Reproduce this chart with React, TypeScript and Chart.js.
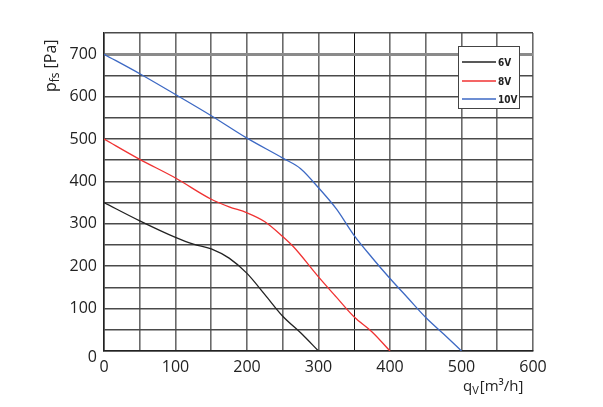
import React, { useEffect, useRef } from "react";
import { Chart, registerables } from "chart.js";

Chart.register(...registerables);

const xs6 = [0, 50, 100, 125, 150, 175, 200, 225, 250, 275, 300];
const ys6 = [350, 307, 268, 252, 241, 219, 183, 133, 82, 43, 0];
const xs8 = [0, 50, 100, 150, 175, 200, 225, 250, 265, 300, 325, 350, 375, 400];
const ys8 = [500, 452, 408, 358, 340, 326, 305, 270, 246, 175, 127, 80, 45, 0];
const xs10 = [0, 50, 100, 150, 200, 250, 275, 300, 325, 350, 375, 400, 425, 450, 475, 500];
const ys10 = [700, 654, 605, 555, 502, 455, 430, 385, 335, 272, 220, 171, 125, 79, 40, 0];
const seriesNames = ["6V", "8V", "10V"];
const seriesColors = ["#222222", "#f03232", "#3d69c4"];
const xTickLabels = [0, 100, 200, 300, 400, 500, 600];
const yTickLabels = [100, 200, 300, 400, 500, 600, 700];
const yZeroLabel = "0";

const FONT = "'Open Sans', sans-serif";

const toPts = (xs: number[], ys: number[]) => xs.map((x, i) => ({ x, y: ys[i] }));

const decor = {
  id: "decor",
  afterDraw(chart: any) {
    const ctx = chart.ctx;
    ctx.save();
    // y zero label (offset low as in original)
    ctx.fillStyle = "#222";
    ctx.font = `16px ${FONT}`;
    ctx.textAlign = "right";
    ctx.textBaseline = "middle";
    ctx.fillText(yZeroLabel, 97, chart.scales.y.getPixelForValue(0) + 6);
    // legend box
    const bx = 458, by = 46, bw = 61, bh = 62;
    ctx.fillStyle = "#fff";
    ctx.fillRect(bx, by, bw, bh);
    ctx.strokeStyle = "#444";
    ctx.lineWidth = 1;
    ctx.strokeRect(bx + 0.5, by + 0.5, bw, bh);
    const rows = [62, 81, 99];
    seriesNames.forEach((n, i) => {
      ctx.strokeStyle = seriesColors[i];
      ctx.lineWidth = 1.3;
      ctx.beginPath();
      ctx.moveTo(462, rows[i]);
      ctx.lineTo(496, rows[i]);
      ctx.stroke();
      ctx.fillStyle = "#222";
      ctx.font = "bold 10px 'DejaVu Sans Condensed', sans-serif";
      ctx.textBaseline = "middle";
      ctx.textAlign = "left";
      ctx.fillText(n, 498, rows[i] + 1);
    });
    // y title
    ctx.fillStyle = "#222";
    ctx.textBaseline = "alphabetic";
    ctx.textAlign = "left";
    ctx.translate(56, 92);
    ctx.rotate(-Math.PI / 2);
    ctx.font = `16px ${FONT}`;
    ctx.fillText("p", 0, 0);
    let w = ctx.measureText("p").width;
    ctx.font = `12px ${FONT}`;
    ctx.fillText("fs", w, 3);
    w += ctx.measureText("fs").width + 4;
    ctx.font = `16px ${FONT}`;
    ctx.fillText("[Pa]", w, 0);
    ctx.setTransform(1, 0, 0, 1, 0, 0);
    // x title
    ctx.font = `15px ${FONT}`;
    ctx.fillText("q", 463, 391);
    let xw = 463 + ctx.measureText("q").width;
    ctx.font = `11px ${FONT}`;
    ctx.fillText("V", xw, 394);
    xw += ctx.measureText("V").width + 1;
    ctx.font = `15px ${FONT}`;
    ctx.fillText("[m³/h]", xw, 391);
    ctx.restore();
  },
};

export default function App() {
  const ref = useRef<HTMLCanvasElement>(null);
  useEffect(() => {
    if (!ref.current) return;
    const chart = new Chart(ref.current, {
      type: "line",
      data: {
        datasets: [
          { label: seriesNames[0], data: toPts(xs6, ys6), borderColor: seriesColors[0] },
          { label: seriesNames[1], data: toPts(xs8, ys8), borderColor: seriesColors[1] },
          { label: seriesNames[2], data: toPts(xs10, ys10), borderColor: seriesColors[2] },
        ].map((d) => ({ ...d, borderWidth: 1.3, pointRadius: 0, fill: false, cubicInterpolationMode: "monotone" as const })),
      },
      plugins: [decor],
      options: {
        responsive: false,
        animation: false,
        layout: { padding: { left: 0, top: 33, right: 70, bottom: 0 } },
        plugins: { legend: { display: false }, tooltip: { enabled: false } },
        scales: {
          x: {
            type: "linear",
            min: 0,
            max: 600,
            afterFit: (s: any) => { s.height = 56; },
            border: { display: true, color: "#222", width: 1.5 },
            grid: {
              drawTicks: false,
              color: (c: any) => (c.tick && c.tick.value === 350 ? "#111" : "#6a6a6a"),
              lineWidth: (c: any) => (c.tick && c.tick.value === 350 ? 1 : 1.6),
            },
            ticks: {
              stepSize: 50,
              autoSkip: false,
              maxRotation: 0,
              padding: 7,
              color: "#222",
              font: { family: FONT, size: 16 },
              callback: (v: any) => (xTickLabels.includes(Number(v)) ? String(v) : ""),
            },
          },
          y: {
            min: 0,
            max: 750,
            afterFit: (s: any) => { s.width = 104; },
            border: { display: true, color: "#222", width: 1.5 },
            grid: {
              drawTicks: false,
              color: (c: any) => (c.tick && c.tick.value === 700 ? "#8a8a8a" : "#4a4a4a"),
              lineWidth: (c: any) => (c.tick && c.tick.value === 700 ? 3 : 1.5),
            },
            ticks: {
              stepSize: 50,
              autoSkip: false,
              padding: 7,
              color: "#222",
              font: { family: FONT, size: 16 },
              callback: (v: any) => (yTickLabels.includes(Number(v)) ? String(v) : ""),
            },
          },
        },
      },
    });
    return () => chart.destroy();
  }, []);
  return (
    <div style={{ position: "absolute", left: 0, top: 0, width: 603, height: 407, background: "#fff" }}>
      <canvas ref={ref} width={603} height={407} style={{ width: 603, height: 407 }} />
    </div>
  );
}
